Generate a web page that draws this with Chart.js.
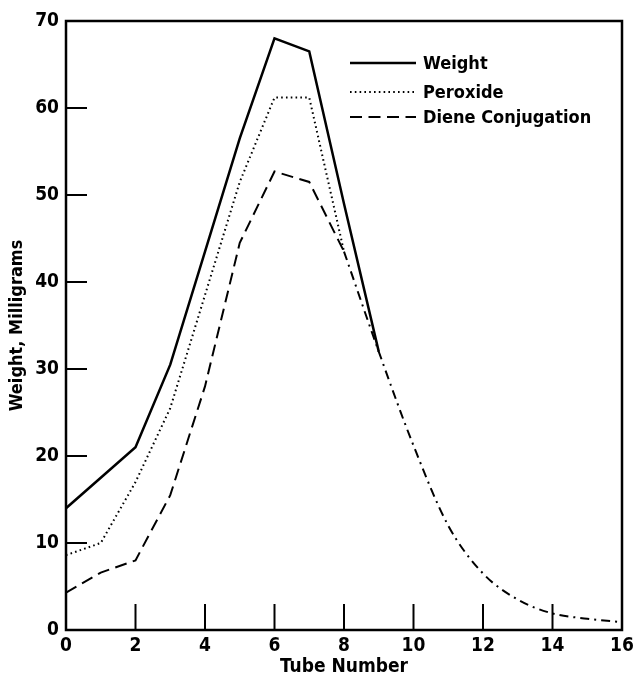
<!DOCTYPE html>
<html><head><meta charset="utf-8">
<script src="https://cdn.jsdelivr.net/npm/chart.js@4"></script>
<style>html,body{margin:0;padding:0;background:#fff}#wrap{width:636px;height:679px}</style>
</head><body><div id="wrap"><canvas id="c" width="636" height="679"></canvas></div>
<script>
// ---- data ----
const weightX   = [0, 1, 2, 3, 4, 5, 6, 7, 8, 9];
const weight    = [14, 17.5, 21, 30.5, 43.5, 56.5, 68, 66.5, 49, 32];
const peroxideX = [0, 1, 2, 3, 4, 5, 6, 7, 8];
const peroxide  = [8.6, 10, 17, 25.5, 38.5, 51.5, 61.2, 61.2, 43.5];
const dieneX    = [0, 1, 2, 3, 4, 5, 6, 7, 8];
const diene     = [4.3, 6.6, 8, 15.5, 28, 44.5, 52.7, 51.5, 43.5];
const tailX     = [8, 9, 10, 11, 12, 13, 14, 15, 16];
const tail      = [43.5, 32, 21.2, 12, 6.5, 3.5, 1.9, 1.3, 0.9];
const xTickVals = [0, 2, 4, 6, 8, 10, 12, 14, 16];
const yTickVals = [0, 10, 20, 30, 40, 50, 60, 70];
const seriesNames = ['Weight', 'Peroxide', 'Diene Conjugation'];
const xTitle = 'Tube Number';
const yTitle = 'Weight, Milligrams';

const FONT = '"DejaVu Sans Condensed", "Liberation Sans Narrow", sans-serif';
const pts = (xs, ys) => xs.map((x, i) => ({x, y: ys[i]}));

const innerTicks = {
  id: 'innerTicks',
  afterDatasetsDraw(chart) {
    const {ctx, chartArea: a, scales: {x, y}} = chart;
    ctx.save();
    ctx.strokeStyle = '#000';
    ctx.lineWidth = 2;
    xTickVals.forEach(v => {
      if (v === x.min || v === x.max) return;
      const px = x.getPixelForValue(v);
      ctx.beginPath(); ctx.moveTo(px, a.bottom); ctx.lineTo(px, a.bottom - 26); ctx.stroke();
    });
    yTickVals.forEach(v => {
      if (v === y.min || v === y.max) return;
      const py = y.getPixelForValue(v);
      ctx.beginPath(); ctx.moveTo(a.left, py); ctx.lineTo(a.left + 21, py); ctx.stroke();
    });
    ctx.lineWidth = 2.5;
    ctx.strokeRect(a.left, a.top, a.right - a.left, a.bottom - a.top);
    ctx.restore();
  }
};

const lineLegend = {
  id: 'lineLegend',
  afterDraw(chart) {
    const {ctx} = chart;
    const ys = [63, 92, 117];
    ctx.save();
    ctx.font = 'bold 18px ' + FONT;
    ctx.textBaseline = 'middle';
    ctx.fillStyle = '#000';
    seriesNames.forEach((name, i) => {
      const ds = chart.data.datasets[i];
      ctx.strokeStyle = '#000';
      ctx.lineWidth = ds.borderWidth;
      ctx.setLineDash(ds.borderDash || []);
      ctx.lineCap = ds.borderCapStyle || 'butt';
      ctx.beginPath(); ctx.moveTo(350, ys[i]); ctx.lineTo(416, ys[i]); ctx.stroke();
      ctx.setLineDash([]);
      ctx.fillText(name, 423, ys[i] + 1);
    });
    ctx.restore();
  }
};

new Chart(document.getElementById('c'), {
  type: 'line',
  data: {
    datasets: [
      {label: seriesNames[0], data: pts(weightX, weight), borderColor: '#000', borderWidth: 2.5, borderDash: []},
      {label: seriesNames[1], data: pts(peroxideX, peroxide), borderColor: '#000', borderWidth: 2, borderDash: [1.6, 3.2]},
      {label: seriesNames[2], data: pts(dieneX, diene), borderColor: '#000', borderWidth: 2, borderDash: [12, 6.5]},
      {label: 'tail', data: pts(tailX, tail), borderColor: '#000', borderWidth: 2, borderDash: [9, 5, 2, 5], cubicInterpolationMode: 'monotone'}
    ]
  },
  options: {
    responsive: false,
    animation: false,
    devicePixelRatio: 1,
    layout: {padding: {top: 21, right: 14, left: 0, bottom: 0}},
    elements: {point: {radius: 0}, line: {tension: 0, fill: false}},
    plugins: {legend: {display: false}, tooltip: {enabled: false}},
    scales: {
      x: {
        type: 'linear', min: 0, max: 16,
        afterBuildTicks(s) { s.ticks = xTickVals.map(v => ({value: v})); },
        afterFit(s) { s.height = 49; s.paddingLeft = 0; s.paddingRight = 0; s.paddingTop = 0; s.paddingBottom = 0; },
        grid: {display: false, drawTicks: false},
        border: {display: false},
        ticks: {color: '#000', padding: 5, maxRotation: 0, autoSkip: false, font: {family: FONT, size: 19, weight: 'bold'}},
        title: {display: true, text: xTitle, color: '#000', padding: {top: 0, bottom: 1}, font: {family: FONT, size: 19, weight: 'bold'}}
      },
      y: {
        type: 'linear', min: 0, max: 70,
        afterBuildTicks(s) { s.ticks = yTickVals.map(v => ({value: v})); },
        afterFit(s) { s.width = 66; s.paddingLeft = 0; s.paddingRight = 0; s.paddingTop = 0; s.paddingBottom = 0; },
        grid: {display: false, drawTicks: false},
        border: {display: false},
        ticks: {color: '#000', padding: 7, autoSkip: false, font: {family: FONT, size: 19, weight: 'bold'}},
        title: {display: true, text: yTitle, color: '#000', padding: {top: 7, bottom: 0}, font: {family: FONT, size: 18, weight: 'bold'}}
      }
    }
  },
  plugins: [innerTicks, lineLegend]
});
</script></body></html>
